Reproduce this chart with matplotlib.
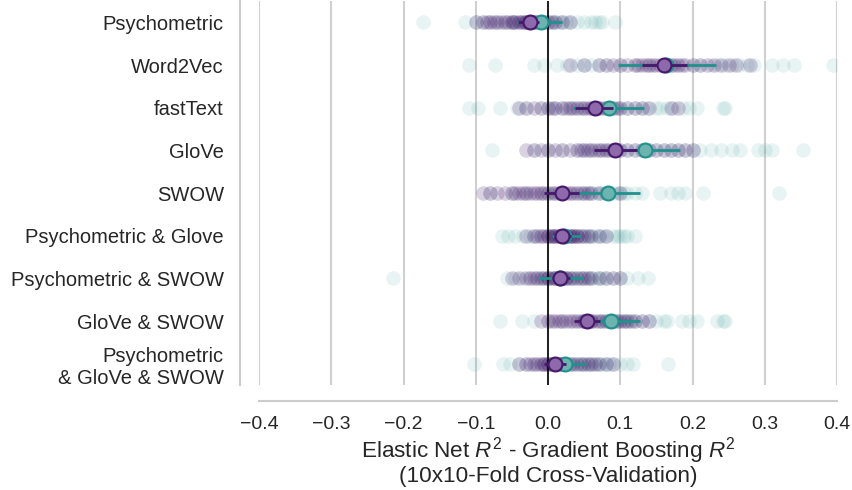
import matplotlib
matplotlib.use("Agg")
import matplotlib.pyplot as plt
import numpy as np

plt.rcParams['font.family'] = ['Liberation Sans', 'DejaVu Sans']
plt.rcParams['mathtext.fontset'] = 'custom'
plt.rcParams['mathtext.rm'] = 'Liberation Sans'
plt.rcParams['mathtext.it'] = 'Liberation Sans:italic'

categories = ["Psychometric", "Word2Vec", "fastText", "GloVe", "SWOW",
              "Psychometric & Glove", "Psychometric & SWOW", "GloVe & SWOW",
              "Psychometric\n& GloVe & SWOW"]

# fold-level differences (purple series)
purple_points = [
    [-0.10, -0.09, -0.085, -0.08, -0.075, -0.07, -0.065, -0.06, -0.055, -0.05, -0.048, -0.045, -0.04, -0.038, -0.035,
     -0.032, -0.03, -0.028, -0.025, -0.022, -0.02, -0.018, -0.015, -0.01, -0.005, 0.0, 0.005, 0.01, 0.02, 0.03],
    [0.03, 0.05, 0.07, 0.08, 0.09, 0.10, 0.11, 0.12, 0.125, 0.13, 0.135, 0.14, 0.145, 0.15, 0.155,
     0.16, 0.165, 0.17, 0.175, 0.18, 0.185, 0.19, 0.20, 0.21, 0.22, 0.23, 0.24, 0.25, 0.26, 0.28],
    [-0.04, -0.03, -0.02, -0.01, 0.0, 0.005, 0.01, 0.02, 0.025, 0.03, 0.035, 0.04, 0.045, 0.05, 0.055,
     0.06, 0.065, 0.07, 0.075, 0.08, 0.085, 0.09, 0.095, 0.10, 0.11, 0.12, 0.13, 0.14, 0.17, 0.18],
    [-0.03, -0.02, -0.01, 0.0, 0.01, 0.02, 0.03, 0.04, 0.045, 0.05, 0.055, 0.06, 0.065, 0.07, 0.075,
     0.08, 0.085, 0.09, 0.095, 0.10, 0.11, 0.12, 0.13, 0.14, 0.15, 0.16, 0.17, 0.18, 0.19, 0.20],
    [-0.09, -0.08, -0.07, -0.06, -0.05, -0.045, -0.04, -0.035, -0.03, -0.025, -0.02, -0.015, -0.01, -0.005, 0.0,
     0.005, 0.01, 0.015, 0.02, 0.025, 0.03, 0.035, 0.04, 0.045, 0.05, 0.055, 0.06, 0.07, 0.08, 0.10],
    [-0.03, -0.02, -0.015, -0.01, -0.005, 0.0, 0.0, 0.005, 0.005, 0.01, 0.01, 0.015, 0.015, 0.02, 0.02,
     0.02, 0.025, 0.025, 0.03, 0.03, 0.035, 0.035, 0.04, 0.04, 0.045, 0.05, 0.055, 0.06, 0.07, 0.08],
    [-0.05, -0.04, -0.03, -0.025, -0.02, -0.015, -0.01, -0.005, 0.0, 0.0, 0.005, 0.01, 0.01, 0.015, 0.015,
     0.02, 0.02, 0.025, 0.025, 0.03, 0.035, 0.04, 0.045, 0.05, 0.055, 0.06, 0.07, 0.08, 0.09, 0.10],
    [-0.01, 0.0, 0.005, 0.01, 0.015, 0.02, 0.025, 0.03, 0.035, 0.04, 0.045, 0.05, 0.05, 0.055, 0.06,
     0.06, 0.065, 0.07, 0.075, 0.08, 0.085, 0.09, 0.095, 0.10, 0.105, 0.11, 0.115, 0.12, 0.13, 0.14],
    [-0.04, -0.03, -0.025, -0.02, -0.015, -0.01, -0.005, -0.005, 0.0, 0.0, 0.005, 0.005, 0.01, 0.01, 0.015,
     0.015, 0.02, 0.02, 0.025, 0.03, 0.035, 0.04, 0.045, 0.05, 0.055, 0.06, 0.065, 0.07, 0.08, 0.09],
]

# fold-level differences (teal series)
teal_points = [
    [-0.173, -0.115, -0.10, -0.09, -0.08, -0.07, -0.06, -0.05, -0.045, -0.04, -0.03, -0.025, -0.02, -0.015, -0.01,
     -0.005, 0.0, 0.005, 0.01, 0.015, 0.02, 0.025, 0.03, 0.04, 0.05, 0.06, 0.065, 0.07, 0.075, 0.093],
    [-0.11, -0.073, -0.02, -0.005, 0.012, 0.026, 0.04, 0.05, 0.06, 0.07, 0.082, 0.10, 0.12, 0.14, 0.16,
     0.17, 0.18, 0.20, 0.21, 0.225, 0.235, 0.245, 0.255, 0.265, 0.275, 0.285, 0.31, 0.325, 0.34, 0.395],
    [-0.11, -0.097, -0.066, -0.043, -0.03, -0.01, 0.0, 0.01, 0.02, 0.03, 0.04, 0.05, 0.06, 0.07, 0.08,
     0.09, 0.10, 0.11, 0.12, 0.13, 0.137, 0.15, 0.155, 0.165, 0.173, 0.187, 0.195, 0.206, 0.242, 0.245],
    [-0.077, -0.02, 0.0, 0.02, 0.04, 0.05, 0.06, 0.07, 0.08, 0.09, 0.10, 0.11, 0.12, 0.13, 0.14,
     0.15, 0.16, 0.17, 0.18, 0.19, 0.20, 0.21, 0.225, 0.24, 0.255, 0.266, 0.29, 0.30, 0.31, 0.353],
    [-0.08, -0.05, -0.03, -0.01, 0.0, 0.01, 0.02, 0.03, 0.04, 0.05, 0.055, 0.06, 0.065, 0.07, 0.075,
     0.08, 0.085, 0.09, 0.095, 0.10, 0.105, 0.11, 0.12, 0.13, 0.155, 0.17, 0.18, 0.19, 0.215, 0.32],
    [-0.064, -0.055, -0.045, -0.035, -0.025, -0.02, -0.01, 0.0, 0.005, 0.01, 0.015, 0.02, 0.025, 0.03, 0.035,
     0.04, 0.045, 0.05, 0.055, 0.06, 0.065, 0.07, 0.075, 0.08, 0.09, 0.095, 0.10, 0.105, 0.11, 0.12],
    [-0.215, -0.057, -0.045, -0.035, -0.025, -0.015, -0.01, -0.005, 0.0, 0.005, 0.01, 0.015, 0.02, 0.025, 0.03,
     0.035, 0.04, 0.045, 0.05, 0.055, 0.06, 0.065, 0.07, 0.075, 0.08, 0.09, 0.10, 0.11, 0.125, 0.138],
    [-0.066, -0.036, -0.02, 0.0, 0.02, 0.04, 0.05, 0.06, 0.07, 0.075, 0.08, 0.085, 0.09, 0.095, 0.10,
     0.105, 0.11, 0.115, 0.12, 0.13, 0.14, 0.15, 0.16, 0.165, 0.185, 0.195, 0.206, 0.234, 0.242, 0.245],
    [-0.103, -0.062, -0.052, -0.04, -0.03, -0.02, -0.01, 0.0, 0.005, 0.01, 0.015, 0.02, 0.025, 0.03, 0.035,
     0.04, 0.045, 0.05, 0.055, 0.06, 0.065, 0.07, 0.075, 0.08, 0.085, 0.09, 0.10, 0.11, 0.118, 0.166],
]

purple_mean = [-0.025, 0.161, 0.065, 0.093, 0.019, 0.020, 0.017, 0.054, 0.010]
purple_lo = [-0.042, 0.130, 0.037, 0.063, -0.006, 0.008, 0.005, 0.036, -0.005]
purple_hi = [-0.013, 0.192, 0.090, 0.123, 0.043, 0.032, 0.030, 0.072, 0.025]

teal_mean = [-0.010, 0.164, 0.084, 0.134, 0.083, 0.022, 0.017, 0.087, 0.024]
teal_lo = [-0.043, 0.097, 0.035, 0.088, 0.040, 0.005, -0.012, 0.050, 0.010]
teal_hi = [0.020, 0.233, 0.133, 0.183, 0.128, 0.045, 0.048, 0.127, 0.052]

xticks = [-0.4, -0.3, -0.2, -0.1, 0.0, 0.1, 0.2, 0.3, 0.4]

PURPLE = "#46196b"
TEAL = "#21918c"
PURPLE_FACE = "#8e6aad"
TEAL_FACE = "#6db4b1"

fig = plt.figure(figsize=(8.53, 4.90), dpi=100)
ax = fig.add_axes([259 / 853, 1 - 385 / 490, (837 - 259) / 853, 384 / 490])

ypos = np.arange(len(categories))

for i in range(len(categories)):
    ax.scatter(teal_points[i], [ypos[i]] * len(teal_points[i]), s=110, color=TEAL,
               alpha=0.1, linewidths=0, zorder=2)
for i in range(len(categories)):
    ax.scatter(purple_points[i], [ypos[i]] * len(purple_points[i]), s=110, color=PURPLE,
               alpha=0.2, linewidths=0, zorder=3)

tm = np.array(teal_mean)
pm = np.array(purple_mean)
ax.errorbar(tm, ypos, xerr=[tm - np.array(teal_lo), np.array(teal_hi) - tm], fmt='o',
            color=TEAL, ecolor=TEAL, elinewidth=2.0, capsize=0, markersize=10,
            markerfacecolor=TEAL_FACE, markeredgecolor=TEAL, markeredgewidth=1.5, zorder=5)
ax.errorbar(pm, ypos, xerr=[pm - np.array(purple_lo), np.array(purple_hi) - pm], fmt='o',
            color=PURPLE, ecolor=PURPLE, elinewidth=2.0, capsize=0, markersize=10,
            markerfacecolor=PURPLE_FACE, markeredgecolor=PURPLE, markeredgewidth=1.5, zorder=6)

ax.axvline(0, color='black', linewidth=1.2, zorder=4)

ax.set_xlim(-0.4, 0.4)
ax.set_ylim(len(categories) - 0.5, -0.5)
ax.set_yticks(ypos)
ax.set_yticklabels(categories, linespacing=1.0)
ax.set_xticks(xticks)
ax.set_xticklabels([f"{t:.1f}".replace('-', '\u2212') for t in xticks])
ax.tick_params(axis='both', length=0, labelcolor='#262626')
ax.tick_params(axis='x', pad=11, labelsize=14)
ax.tick_params(axis='y', pad=11.5, labelsize=14.5)

ax.grid(axis='x', color='#d0d0d0', linewidth=1.5, zorder=0)
ax.grid(axis='y', visible=False)
ax.set_axisbelow(True)

for side in ['top', 'right']:
    ax.spines[side].set_visible(False)
ax.spines['left'].set_position(('outward', 13.7))
ax.spines['bottom'].set_position(('outward', 11.5))
for side in ['left', 'bottom']:
    ax.spines[side].set_color('#cccccc')
    ax.spines[side].set_linewidth(1.5)

ax.set_xlabel("Elastic Net $R^2$ - Gradient Boosting $R^2$\n(10x10-Fold Cross-Validation)",
              fontsize=16.2, color='#262626', linespacing=1.0, labelpad=1.5)

fig.savefig("out.png", dpi=100)
